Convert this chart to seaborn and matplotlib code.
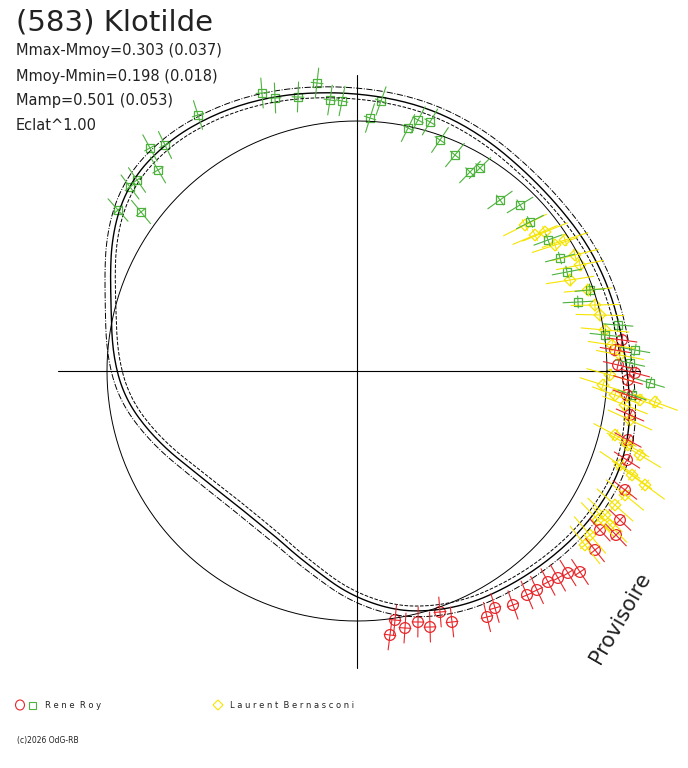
import numpy as np
import pandas as pd
import matplotlib
matplotlib.use("Agg")
import matplotlib.pyplot as plt
import seaborn as sns

sns.set_theme(style="white")
plt.rcParams['font.family'] = ['DejaVu Sans']

# fitted light curve, radius vs phase angle (deg), chart units (reference circle = 250)
curve_ang = [0, 20, 30, 45, 60, 75, 90, 105, 120, 135, 145, 160, 170, 180, 185, 193,
             203, 217, 237, 253, 265, 273, 290, 310, 330, 345, 360]
curve_r = [268, 264, 262, 258, 264, 272, 276, 285, 294, 298, 292, 260, 247, 242, 236,
           222, 203, 183, 178, 193, 215, 234, 255, 265, 278, 282, 268]
ref_r = 250

# observations, offsets from centre (x right, y up)
roy_sq_x = [-239, -216, -227, -220, -207, -199, -192, -159, -95, -82, -59, -40, -27, -15, 13, 24,
            51, 61, 73, 83, 98, 113, 123, 143, 163, 173, 191, 203, 210, 221, 233, 248, 261, 278, 273, 293, 275]
roy_sq_y = [161, 159, 184, 191, 223, 201, 226, 256, 278, 273, 274, 288, 271, 270, 253, 270,
            243, 251, 249, 231, 216, 199, 203, 171, 166, 149, 131, 113, 99, 69, 81, 36, 46, 21, 8, -12, -24]
roy_ci_x = [38, 33, 48, 61, 73, 83, 95, 130, 138, 156, 170, 180, 191, 201, 211, 223, 238, 243,
            259, 263, 268, 270, 271, 273, 270, 271, 278, 261, 258, 265]
roy_ci_y = [-249, -264, -257, -251, -256, -241, -251, -246, -237, -234, -224, -219, -211, -207,
            -202, -201, -179, -159, -164, -149, -119, -89, -69, -44, -24, -9, -2, 6, 21, 31]
lb_x = [168, 178, 188, 198, 208, 218, 223, 213, 231, 238, 243, 248, 255, 263, 253, 246, 258, 268,
        283, 298, 273, 258, 271, 283, 263, 275, 288, 268, 258, 248, 241, 253, 233, 228]
lb_y = [146, 136, 139, 126, 131, 116, 106, 91, 81, 66, 56, 41, 26, 16, -4, -14, -24, -34,
        -29, -31, -49, -64, -74, -84, -94, -104, -114, -124, -134, -144, -149, -154, -164, -174]

CX, CY = 357, 371
fig = plt.figure(figsize=(6.88, 7.68), dpi=100)
ax = fig.add_axes([0, 0, 1, 1])
ax.set_xlim(-CX, 688 - CX)
ax.set_ylim(CY - 768, CY)
ax.axis("off")

# axes cross
ax.plot([-299, 283], [0, 0], color="black", lw=0.8)
ax.plot([0, 0], [-297, 296], color="black", lw=0.8)

deg = np.arange(0, 360)
t = np.radians(np.append(deg, 360))
ax.plot(ref_r * np.cos(t), ref_r * np.sin(t), color="black", lw=0.7)
# smooth the read-off curve with a periodic running mean
raw = np.interp(deg, curve_ang, curve_r)
k = 21
rr = np.convolve(np.concatenate([raw[-k:], raw, raw[:k]]), np.ones(k) / k, mode="same")[k:-k]
rr = np.append(rr, rr[0])
ax.plot(rr * np.cos(t), rr * np.sin(t), color="black", lw=1.0)
ax.plot((rr + 6) * np.cos(t), (rr + 6) * np.sin(t), color="black", lw=0.7, ls="-.")
ax.plot((rr - 5) * np.cos(t), (rr - 5) * np.sin(t), color="black", lw=0.7, ls="--")


def errbars(xs, ys, half, color):
    for x, y in zip(xs, ys):
        a = np.arctan2(y, x) - 0.25
        ax.plot([x - half * np.cos(a), x + half * np.cos(a)],
                [y - half * np.sin(a), y + half * np.sin(a)], color=color, lw=0.8)
        ax.plot([x - 6 * np.sin(a), x + 6 * np.sin(a)],
                [y + 6 * np.cos(a), y - 6 * np.cos(a)], color=color, lw=0.8)


errbars(lb_x, lb_y, 24, "#f5e400")
errbars(roy_sq_x, roy_sq_y, 15, "#4db33d")
errbars(roy_ci_x, roy_ci_y, 15, "#e8262a")

sns.scatterplot(x=lb_x, y=lb_y, marker="D", s=35, facecolor="none", edgecolor="#f5e400",
                linewidth=0.9, ax=ax)
sns.scatterplot(x=roy_sq_x, y=roy_sq_y, marker="s", s=35, facecolor="none", edgecolor="#4db33d",
                linewidth=0.9, ax=ax)
sns.scatterplot(x=roy_ci_x, y=roy_ci_y, marker="o", s=60, facecolor="none", edgecolor="#e8262a",
                linewidth=0.9, ax=ax)

# texts (figure pixel coordinates)
def ftext(x, y, s, **kw):
    fig.text(x / 688, 1 - y / 768, s, **kw)

ftext(16, 22, "(583) Klotilde", fontsize=21, color="#222222", va="center")
ftext(16, 51, "Mmax-Mmoy=0.303 (0.037)", fontsize=10.5, color="#222222", va="center")
ftext(16, 76, "Mmoy-Mmin=0.198 (0.018)", fontsize=10.5, color="#222222", va="center")
ftext(16, 101, "Mamp=0.501 (0.053)", fontsize=10.5, color="#222222", va="center")
ftext(16, 126, "Eclat^1.00", fontsize=10.5, color="#222222", va="center")
ftext(620, 618, "Provisoire", fontsize=15, color="#222222", rotation=60, ha="center", va="center")

ftext(45, 705, "R e n e  R o y", fontsize=6, color="#222222", va="center")
ftext(230, 705, "L a u r e n t  B e r n a s c o n i", fontsize=6, color="#222222", va="center")
ftext(17, 740, "(c)2026 OdG-RB", fontsize=5.5, color="#222222", va="center")
fig.add_artist(plt.Circle((20 / 688, 1 - 705 / 768), 0.0065, transform=fig.transFigure,
                          fill=False, ec="#e8262a", lw=0.8))
fig.add_artist(plt.Rectangle((29 / 688, 1 - 709 / 768), 7 / 688, 7 / 768, transform=fig.transFigure,
                             fill=False, ec="#4db33d", lw=0.8))
fig.add_artist(plt.Polygon([[213 / 688, 1 - 705 / 768], [218 / 688, 1 - 700 / 768],
                            [223 / 688, 1 - 705 / 768], [218 / 688, 1 - 710 / 768]],
                           transform=fig.transFigure, fill=False, ec="#f5e400", lw=0.8))

fig.savefig("out.png", dpi=100)
